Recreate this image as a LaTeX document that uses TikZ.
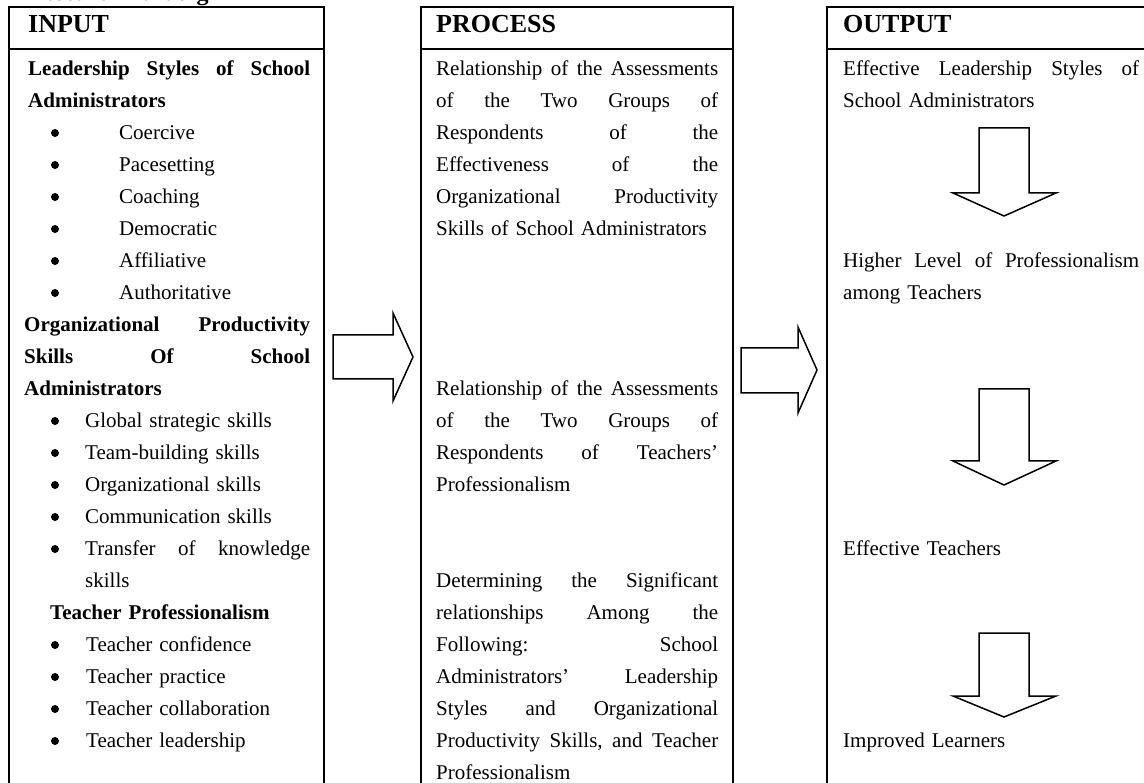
\documentclass[tikz,border=0pt]{standalone}
\usepackage{fontspec}
\setmainfont{Liberation Serif}
\newcommand\JL[1]{\makebox[\linewidth]{#1}\par}
\newcommand\bul[2]{\hspace*{#1}#2\par}
\begin{document}
\begin{tikzpicture}[x=1pt,y=-1pt,
  colbox/.style={line width=2pt},
  body/.style={anchor=base west, inner sep=0pt, align=left, font=\fontsize{21}{32}\selectfont},
  headtext/.style={anchor=base west, inner sep=0pt, font=\bfseries\fontsize{26}{30}\selectfont},
  blockarrow/.style={draw, line width=1.5pt, line join=miter, fill=white},
  bulletdot/.style={fill=black}]
\useasboundingbox (0,0) rectangle (1144,783);
\clip (0,0) rectangle (1144,783);

% cut-off title
\node[anchor=base west, inner sep=0pt, font=\bfseries\fontsize{24}{28}\selectfont] (title) at (27,1) {Research Paradigm};

% column boxes
\draw[colbox] (9,7) rectangle (324,800);
\draw[colbox] (9,49) -- (324,49);
\draw[colbox] (421,7) rectangle (733,800);
\draw[colbox] (421,49) -- (733,49);
\draw[colbox] (827,7) rectangle (1160,800);
\draw[colbox] (827,49) -- (1160,49);

% headers
\node[headtext] (hin) at (28,33) {INPUT};
\node[headtext] (hpr) at (436,33) {PROCESS};
\node[headtext] (hout) at (843,33) {OUTPUT};

% INPUT text
\node[body, text width=286pt] (input) at (24,75.5) {%
\hspace*{4pt}\makebox[282pt]{\bfseries Leadership \hfill Styles \hfill of \hfill School}\par
\hspace*{4pt}\textbf{Administrators}\par
\bul{95pt}{Coercive}
\bul{95pt}{Pacesetting}
\bul{95pt}{Coaching}
\bul{95pt}{Democratic}
\bul{95pt}{Affiliative}
\bul{95pt}{Authoritative}
\JL{\bfseries Organizational \hfill Productivity}
\JL{\bfseries Skills \hfill Of \hfill School}
\textbf{Administrators}\par
\bul{61pt}{Global strategic skills}
\bul{61pt}{Team-building skills}
\bul{61pt}{Organizational skills}
\bul{61pt}{Communication skills}
\bul{61pt}{\makebox[225pt]{Transfer \hfill of \hfill knowledge}}
\hspace*{61pt}skills\par
\hspace*{26pt}\textbf{Teacher Professionalism}\par
\bul{62pt}{Teacher confidence}
\bul{62pt}{Teacher practice}
\bul{62pt}{Teacher collaboration}
\bul{62pt}{Teacher leadership}};

% bullets of the INPUT list
\foreach \k in {2,...,7,11,12,13,14,15,18,19,20,21}{
  \fill[bulletdot] (55,{75.5+32*\k-6.5}) circle (4);
}

% PROCESS text
\node[body, text width=282pt] (p1) at (436,75.5) {%
\JL{Relationship \hfill of \hfill the \hfill Assessments}
\JL{of \hfill the \hfill Two \hfill Groups \hfill of}
\JL{Respondents \hfill of \hfill the}
\JL{Effectiveness \hfill of \hfill the}
\JL{Organizational \hfill Productivity}
Skills of School Administrators\par};
\node[body, text width=282pt] (p2) at (436,395.5) {%
\JL{Relationship \hfill of \hfill the \hfill Assessments}
\JL{of \hfill the \hfill Two \hfill Groups \hfill of}
\JL{Respondents \hfill of \hfill Teachers’}
Professionalism\par};
\node[body, text width=282pt] (p3) at (436,587.5) {%
\JL{Determining \hfill the \hfill Significant}
\JL{relationships \hfill Among \hfill the}
\JL{Following: \hfill School}
\JL{Administrators’ \hfill Leadership}
\JL{Styles \hfill and \hfill Organizational}
\JL{Productivity \hfill Skills, \hfill and \hfill Teacher}
Professionalism\par};

% OUTPUT text
\node[body, text width=296pt] (o1) at (843,75.5) {%
\JL{Effective \hfill Leadership \hfill Styles \hfill of}
School Administrators\par};
\node[body, text width=296pt] (o2) at (843,267.5) {%
\JL{Higher \hfill Level \hfill of \hfill Professionalism}
among Teachers\par};
\node[body, text width=296pt] (o3) at (843,555.5) {Effective Teachers\par};
\node[body, text width=296pt] (o4) at (843,747.5) {Improved Learners\par};

% block arrows between columns
\draw[blockarrow] (333,335) -- (393,335) -- (393,313) -- (413,357) -- (393,401) -- (393,379) -- (333,379) -- cycle;
\draw[blockarrow] (741,348) -- (798,348) -- (798,327) -- (817,370) -- (798,413) -- (798,393) -- (741,393) -- cycle;

% down arrows in OUTPUT
\foreach \t/\h/\p in {128/193/216, 389/461/485, 633/696/717}{
  \draw[blockarrow] (979,\t) -- (979,\h) -- (953,\h) -- (1004,\p) -- (1056,\h) -- (1029,\h) -- (1029,\t) -- cycle;
}
\end{tikzpicture}
\end{document}
